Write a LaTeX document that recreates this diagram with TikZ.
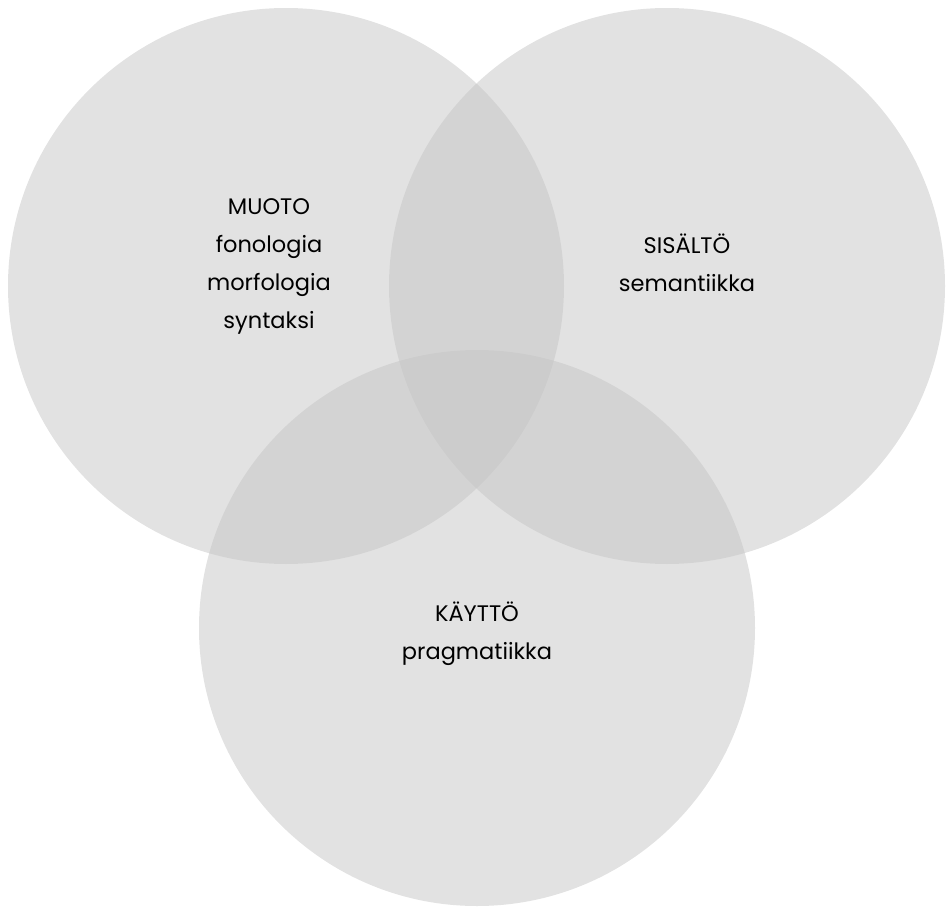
\documentclass[tikz,border=0pt]{standalone}
\usepackage{fontspec}
\setmainfont{Poppins}
\begin{document}
\begin{tikzpicture}[x=1pt,y=-1pt,
  venn/.style={fill={rgb,255:red,197;green,197;blue,197}, fill opacity=0.5},
  lbl/.style={align=center, inner sep=0pt, anchor=base, text=black,
    font=\fontsize{22.5}{38}\selectfont}]
\useasboundingbox (0,0) rectangle (946,907);
\fill[venn] (286,286) circle[radius=278];
\fill[venn] (667,286) circle[radius=278];
\fill[venn] (477,628) circle[radius=278];
\node[lbl] (muoto) at (269,328) {MUOTO\\fonologia\\morfologia\\syntaksi};
\node[lbl] (sisalto) at (687,291) {SISÄLTÖ\\semantiikka};
\node[lbl] (kaytto) at (477,659) {KÄYTTÖ\\pragmatiikka};
\end{tikzpicture}
\end{document}
